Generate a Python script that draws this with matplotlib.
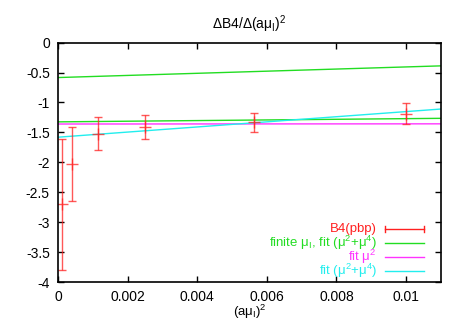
import matplotlib
matplotlib.use("Agg")
import matplotlib.pyplot as plt
import numpy as np

plt.rcParams['font.family'] = ['Liberation Sans', 'DejaVu Sans']
plt.rcParams['mathtext.fontset'] = 'custom'
plt.rcParams['mathtext.rm'] = 'Liberation Sans'
plt.rcParams['mathtext.it'] = 'Liberation Sans:italic'
plt.rcParams['font.size'] = 10

# datos B4(pbp) con errores
x_b4 = [0.0001, 0.0004, 0.00114, 0.0025, 0.005625, 0.01]
y_b4 = [-2.70, -2.03, -1.52, -1.41, -1.33, -1.185]
err_b4 = [1.09, 0.62, 0.27, 0.20, 0.16, 0.175]

x_fit = [0.0, 0.011]
y_finite_a = [-0.584, -0.389]
y_finite_b = [-1.324, -1.265]
y_fit_mu2 = [-1.36, -1.357]
y_fit_mu24 = [-1.58, -1.11]

red = '#ff2020'
green = '#22dd22'
magenta = '#ff33ff'
cyan = '#22eeee'

fig = plt.figure(figsize=(4.65, 3.25), dpi=100)
ax = fig.add_axes([0.125, 0.132, 0.823, 0.737])

ax.plot(x_fit, y_finite_a, color=green, lw=1)
ax.plot(x_fit, y_finite_b, color=green, lw=1)
ax.plot(x_fit, y_fit_mu2, color=magenta, lw=1)
ax.plot(x_fit, y_fit_mu24, color=cyan, lw=1)
ax.errorbar(x_b4, y_b4, yerr=err_b4, fmt='+', color=red, ms=9, mew=1,
            elinewidth=1, capsize=3, capthick=1, alpha=0.75)

ax.set_xlim(0, 0.011)
ax.set_ylim(-4, 0)
ax.set_xticks(np.arange(0, 0.0101, 0.002))
ax.set_xticklabels(['0', '0.002', '0.004', '0.006', '0.008', '0.01'])
ax.set_yticks(np.arange(-4, 0.01, 0.5))
ax.set_yticklabels(['-4', '-3.5', '-3', '-2.5', '-2', '-1.5', '-1', '-0.5', '0'])
ax.tick_params(direction='in', top=True, right=True, length=4, width=1, pad=6)
for s in ax.spines.values():
    s.set_linewidth(1.2)

ax.set_title(r'ΔB4/Δ(aμ$_\mathrm{I}$)$^2$', fontsize=10, pad=10)
ax.set_xlabel(r'(aμ$_\mathrm{I}$)$^2$', fontsize=9.5, labelpad=-1)

# leyenda estilo gnuplot
labels = ['B4(pbp)', r'finite μ$_\mathrm{I}$, fit (μ$^2$+μ$^4$)', r'fit μ$^2$', r'fit (μ$^2$+μ$^4$)']
colors = [red, green, magenta, cyan]
rows = [0.221, 0.163, 0.104, 0.046]
for lab, c, yy in zip(labels, colors, rows):
    ax.text(0.833, yy, lab, color=c, ha='right', va='center', fontsize=9.5,
            transform=ax.transAxes)
    ax.plot([0.854, 0.956], [yy, yy], color=c, lw=1, transform=ax.transAxes, clip_on=False)
for xx in [0.854, 0.956]:
    ax.plot([xx, xx], [rows[0] - 0.012, rows[0] + 0.012], color=red, lw=1,
            transform=ax.transAxes, clip_on=False)

fig.savefig('out.png', dpi=100)
